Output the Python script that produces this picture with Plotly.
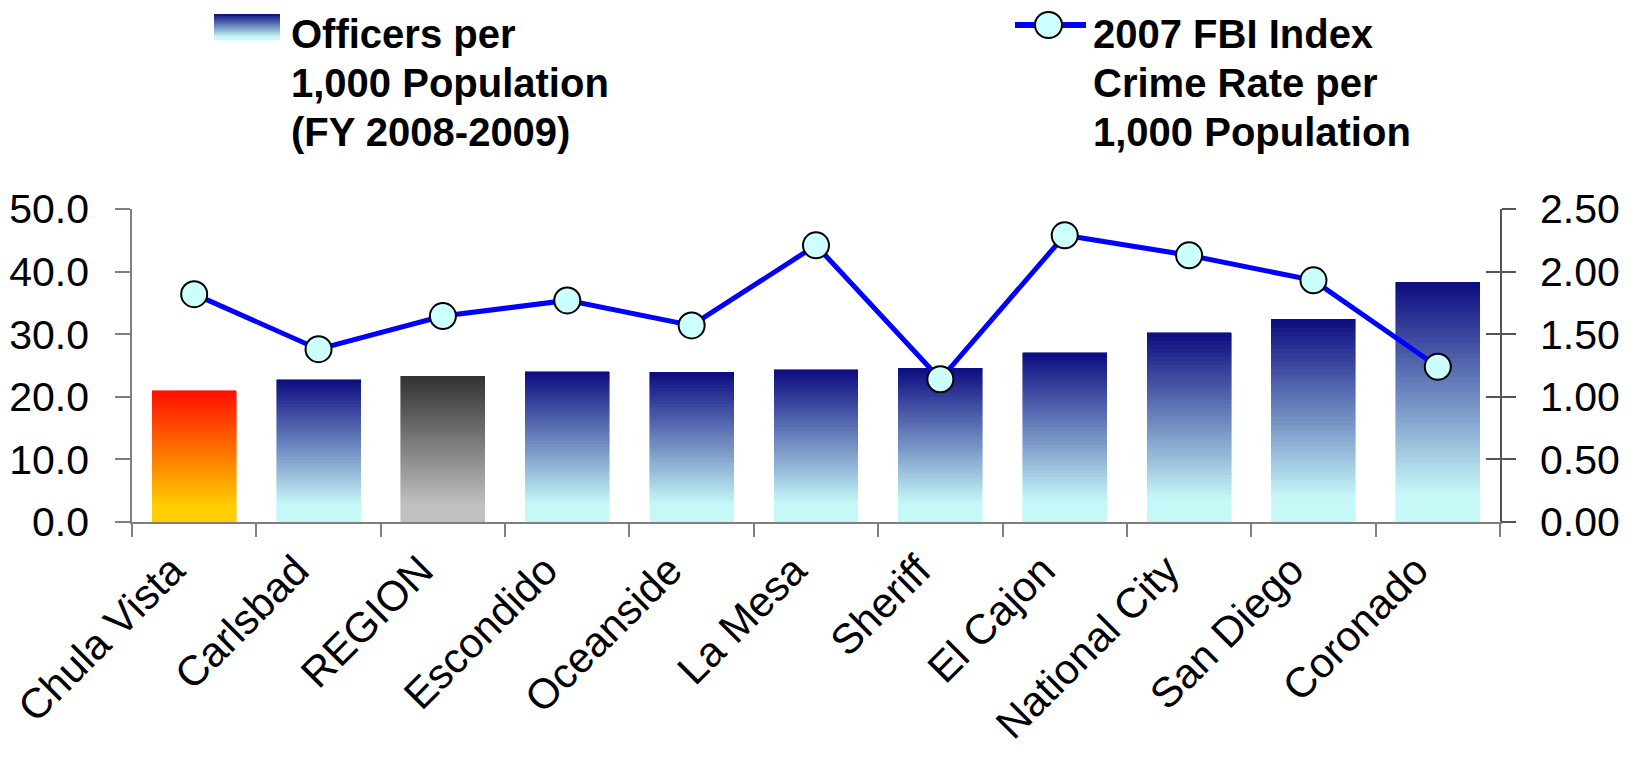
import plotly.graph_objects as go

# ---------------- data ----------------
categories = ["Chula Vista", "Carlsbad", "REGION", "Escondido", "Oceanside",
              "La Mesa", "Sheriff", "El Cajon", "National City", "San Diego", "Coronado"]
officers_per_1000 = [21.0, 22.7, 23.3, 24.0, 23.9, 24.3, 24.6, 27.0, 30.2, 32.4, 38.3]
crime_rate_per_1000 = [1.82, 1.38, 1.645, 1.77, 1.57, 2.21, 1.14, 2.29, 2.13, 1.93, 1.24]
left_ticks = [0, 10, 20, 30, 40, 50]
right_ticks = [0, 0.5, 1.0, 1.5, 2.0, 2.5]

bar_name_lines = ["Officers per", "1,000 Population", "(FY 2008-2009)"]
line_name_lines = ["2007 FBI Index", "Crime Rate per", "1,000 Population"]

# ---------------- style ----------------
OFF = 8                       # default page body margin
W, H = 1616, 741
ML, MR, MT, MB = 124, 124, 201, 227
PW, PH = W - ML - MR, H - MT - MB
PL, PT = OFF + ML, OFF + MT   # plot area left / top on screen
FONT = "Liberation Sans, Arial, sans-serif"

grad_default = ((12, 12, 128), (198, 248, 248))   # top, bottom
grad_special = {
    "Chula Vista": ((255, 14, 0), (255, 206, 0)),
    "REGION": ((50, 50, 50), (192, 192, 192)),
}
NSEG = 48
PLATEAU = 0.88


def mix(top, bottom, s):
    # s = 0 at top, 1 at bottom of the bar
    u = min(1.0, s / PLATEAU)
    return "rgb(%d,%d,%d)" % tuple(round(a + (b - a) * u) for a, b in zip(top, bottom))


def px(xp):
    return (xp - PL) / PW


def py(yp):
    return (PT + PH - yp) / PH


fig = go.Figure()

# gradient bars, built as stacked slices of each value (bottom slice first)
for k in range(NSEG):
    s = 1 - (k + 0.5) / NSEG
    cols = []
    for c in categories:
        top, bot = grad_special.get(c, grad_default)
        cols.append(mix(top, bot, s))
    fig.add_trace(go.Bar(
        x=categories,
        y=[v / NSEG for v in officers_per_1000],
        marker=dict(color=cols, line=dict(color=cols, width=0.6)),
        showlegend=False, hoverinfo="skip", yaxis="y",
    ))

fig.add_trace(go.Scatter(
    x=categories, y=crime_rate_per_1000, yaxis="y2", mode="lines+markers",
    line=dict(color="rgb(0,0,255)", width=5),
    marker=dict(size=26, color="rgb(204,255,255)", line=dict(color="black", width=2)),
    showlegend=False, name="crime",
))
# invisible trace to activate the crossing-tick axis
fig.add_trace(go.Scatter(x=[categories[0]], y=[0], yaxis="y3", mode="lines",
                         line=dict(width=0), showlegend=False, hoverinfo="skip"))

fig.update_layout(
    width=W, height=H,
    margin=dict(l=ML, r=MR, t=MT, b=MB, pad=0, autoexpand=False),
    paper_bgcolor="white", plot_bgcolor="white",
    barmode="stack", bargap=0.325,
    showlegend=False,
    font=dict(family=FONT, size=41, color="black"),
    xaxis=dict(
        type="category", range=[-0.5, len(categories) - 0.5],
        tickangle=-45, tickson="boundaries",
        ticks="outside", ticklen=13, tickcolor="#7f7f7f", tickwidth=1.5,
        showline=True, linecolor="#7f7f7f", linewidth=1.5,
        showgrid=False, zeroline=False, automargin=False,
        tickfont=dict(size=42), ticklabelshift=-22, ticklabelstandoff=5,
    ),
    yaxis=dict(
        range=[0, 50], tickvals=left_ticks, tickformat=".1f",
        ticks="outside", ticklen=15, tickcolor="#7f7f7f", tickwidth=1.5,
        showline=True, linecolor="#7f7f7f", linewidth=1.5,
        showgrid=False, zeroline=False, ticklabelstandoff=18, automargin=False,
    ),
    yaxis2=dict(
        range=[0, 2.5], tickvals=right_ticks, tickformat=".2f",
        overlaying="y", side="right",
        ticks="outside", ticklen=14, tickcolor="#555555", tickwidth=1.5,
        showline=True, linecolor="#555555", linewidth=1.5,
        showgrid=False, zeroline=False, ticklabelstandoff=16, automargin=False,
    ),
    yaxis3=dict(
        range=[0, 2.5], tickvals=right_ticks,
        overlaying="y", side="right", anchor="x",
        ticks="inside", ticklen=14, tickcolor="#555555", tickwidth=1.5,
        showticklabels=False, showline=False, showgrid=False, zeroline=False,
        automargin=False,
    ),
)

# ---------------- custom legend ----------------
shapes = []
sw_x0, sw_x1, sw_y0, sw_y1 = 214, 280, 14, 40
nsw = 13
for k in range(nsw):
    s = (k + 0.5) / nsw
    y0 = sw_y0 + (sw_y1 - sw_y0) * k / nsw
    y1 = sw_y0 + (sw_y1 - sw_y0) * (k + 1) / nsw
    c = mix(grad_default[0], grad_default[1], s)
    shapes.append(dict(type="rect", xref="paper", yref="paper",
                       x0=px(sw_x0), x1=px(sw_x1), y0=py(y0), y1=py(y1 + 0.3),
                       fillcolor=c, line=dict(width=0), layer="above"))
shapes.append(dict(type="line", xref="paper", yref="paper",
                   x0=px(1015), x1=px(1086), y0=py(25), y1=py(25),
                   line=dict(color="rgb(0,0,255)", width=6), layer="above"))
shapes.append(dict(type="circle", xref="paper", yref="paper",
                   x0=px(1035), x1=px(1062), y0=py(12), y1=py(38),
                   fillcolor="rgb(204,255,255)", line=dict(color="black", width=2),
                   layer="above"))
fig.update_layout(shapes=shapes)

LEG_FS = 40
line_centers = [33.5, 83, 131.5]
for x_left, lines in ((289, bar_name_lines), (1091, line_name_lines)):
    for yc, txt in zip(line_centers, lines):
        fig.add_annotation(text=txt, x=px(x_left), y=py(yc), xref="paper", yref="paper",
                           xanchor="left", yanchor="middle", align="left",
                           showarrow=False,
                           font=dict(family=FONT, size=LEG_FS, weight="bold",
                                     color="black"))

fig.write_html("out.html")
